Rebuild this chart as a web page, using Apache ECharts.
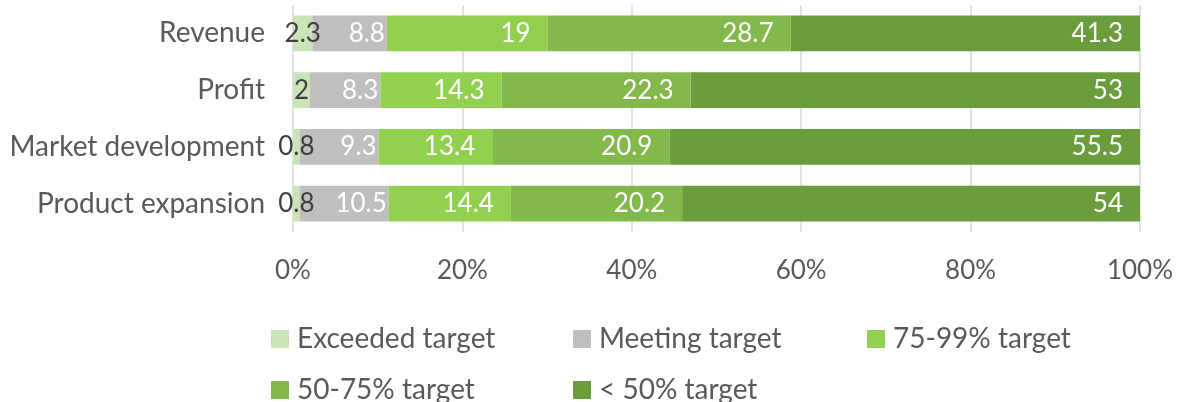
<!DOCTYPE html>
<html>
<head>
<meta charset="utf-8">
<script src="https://cdn.jsdelivr.net/npm/echarts@6/dist/echarts.min.js"></script>
<style>
  html, body { margin: 0; padding: 0; background: #fff; }
  #chart { width: 1178px; height: 402px; }
</style>
</head>
<body>
<div id="chart"></div>
<script>
const categories = ["Revenue", "Profit", "Market development", "Product expansion"];
const seriesNames = ["Exceeded target", "Meeting target", "75-99% target", "50-75% target", "< 50% target"];
const exceeded = [2.3, 2, 0.8, 0.8];
const meeting = [8.8, 8.3, 9.3, 10.5];
const target75 = [19, 14.3, 13.4, 14.4];
const target50 = [28.7, 22.3, 20.9, 20.2];
const below50 = [41.3, 53, 55.5, 54];
const xTicks = [0, 20, 40, 60, 80, 100];

const colors = ["#c9e4b6", "#bfbfbf", "#92d050", "#82b94a", "#6b9d3c"];
const FONT = "Lato";
const FS = 26;
const FS_TEXT = 28;

const raw = [exceeded, meeting, target75, target50, below50];
// 100% stacked: normalise each row, keep the raw value for the label
const totals = categories.map((_, i) => raw.reduce((s, arr) => s + arr[i], 0));

const labelCfg = [
  { position: "inside", color: "#404040", distance: 0 },
  { position: "insideRight", color: "#fff", distance: 2 },
  { position: "insideRight", color: "#fff", distance: 17 },
  { position: "insideRight", color: "#fff", distance: 17 },
  { position: "insideRight", color: "#fff", distance: 17 },
];

const series = raw.map((arr, k) => ({
  name: seriesNames[k],
  type: "bar",
  stack: "total",
  barWidth: "63%",
  itemStyle: { color: colors[k] },
  label: {
    show: true,
    position: labelCfg[k].position,
    distance: labelCfg[k].distance,
    color: labelCfg[k].color,
    fontFamily: FONT,
    fontSize: FS,
    formatter: (p) => String(p.data.raw),
  },
  data: arr.map((v, i) => ({ value: (v / totals[i]) * 100, raw: v })),
}));

const legendPos = [
  { left: 266, top: 320 },
  { left: 568, top: 320 },
  { left: 862, top: 320 },
  { left: 266, top: 371 },
  { left: 568, top: 371 },
];

const chart = echarts.init(document.getElementById("chart"));
chart.setOption({
  animation: false,
  color: colors,
  grid: { left: 293, right: 38, top: 5, height: 227, containLabel: false },
  legend: legendPos.map((p, k) => ({
    data: [seriesNames[k]],
    left: p.left,
    top: p.top,
    itemWidth: 18,
    itemHeight: 18,
    itemGap: 0,
    icon: "rect",
    textStyle: { fontFamily: FONT, fontSize: FS_TEXT, color: "#595959", padding: [0, 0, 0, 3] },
  })),
  xAxis: {
    type: "value",
    min: xTicks[0],
    max: xTicks[xTicks.length - 1],
    interval: 20,
    axisLine: { show: false },
    axisTick: { show: false },
    splitLine: { show: true, lineStyle: { color: "#d9d9d9", width: 1.5 } },
    axisLabel: {
      margin: 26,
      fontFamily: FONT,
      fontSize: FS,
      color: "#595959",
      formatter: "{value}%",
    },
  },
  yAxis: {
    type: "category",
    inverse: true,
    data: categories,
    axisLine: { show: false },
    axisTick: { show: false },
    axisLabel: {
      margin: 28,
      fontFamily: FONT,
      fontSize: FS_TEXT,
      color: "#595959",
    },
  },
  series,
});
</script>
</body>
</html>
